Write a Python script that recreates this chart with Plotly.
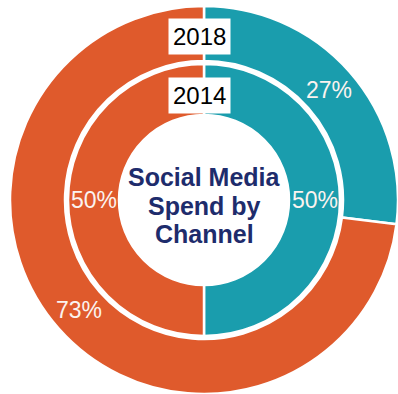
import math
import plotly.graph_objects as go

channels = ["Channel A", "Channel B"]
share_2018 = [27, 73]
share_2014 = [50, 50]
year_labels = ["2018", "2014"]
center_title = ["Social Media", "Spend by", "Channel"]

TEAL = "#1A9DAD"
ORANGE = "#DF5A2C"
NAVY = "#1E2C6C"
W, H = 398, 394

# geometry (pixels)
cx, cy_top = 204, 200
r_out, r_out_hole = 194, 139
r_in, r_in_hole = 136, 85

def dom(r):
    return dict(
        x=[(cx - r) / W, min((cx + r) / W, 1.0)],
        y=[(H - cy_top - r) / H, (H - cy_top + r) / H],
    )

fig = go.Figure()
for vals, r, rh in [(share_2018, r_out, r_out_hole), (share_2014, r_in, r_in_hole)]:
    fig.add_trace(go.Pie(
        labels=channels, values=vals, sort=False, direction="clockwise", rotation=0,
        hole=rh / r, domain=dom(r),
        marker=dict(colors=[TEAL, ORANGE], line=dict(color="white", width=2.5)),
        textinfo="none", showlegend=False, hoverinfo="label+percent",
    ))

annotations = []
# percent labels at the middle of each ring segment
for vals, r, rh in [(share_2018, r_out, r_out_hole), (share_2014, r_in, r_in_hole)]:
    total = sum(vals)
    cum = 0
    rm = (r + rh) / 2
    for v in vals:
        mid = (cum + v / 2) / total * 2 * math.pi
        cum += v
        px = cx + rm * math.sin(mid)
        py = cy_top - rm * math.cos(mid)
        annotations.append(dict(
            text=f"{round(v / total * 100)}%", x=px / W, y=(H - py) / H,
            xref="paper", yref="paper", showarrow=False,
            font=dict(family="Liberation Sans, Arial", size=23, color="#FBF3EF"),
            xanchor="center", yanchor="middle",
        ))

for lbl, ypix in zip(year_labels, [36, 96]):
    annotations.append(dict(
        text=lbl, x=200 / W, y=(H - ypix) / H, xref="paper", yref="paper",
        showarrow=False, bgcolor="white", borderpad=4,
        font=dict(family="Liberation Sans, Arial", size=24, color="black"),
        xanchor="center", yanchor="middle",
    ))
for line, ypix in zip(center_title, [177, 206, 234]):
    annotations.append(dict(
        text="<b>" + line + "</b>", x=204 / W, y=(H - ypix) / H, xref="paper", yref="paper",
        showarrow=False,
        font=dict(family="Liberation Sans, Arial", size=25, color=NAVY),
        xanchor="center", yanchor="middle",
    ))

fig.update_layout(
    width=W, height=H, margin=dict(l=0, r=0, t=0, b=0),
    paper_bgcolor="white", plot_bgcolor="white",
    annotations=annotations,
)
fig.write_html("out.html")
